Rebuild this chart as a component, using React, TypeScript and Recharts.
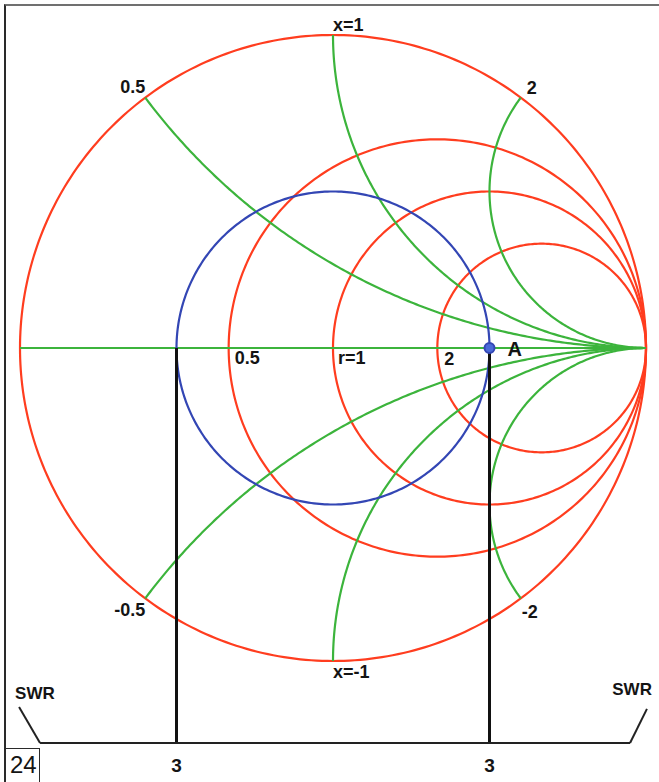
import React from 'react';
import { ComposedChart, Line, XAxis, YAxis, ReferenceLine, ReferenceDot } from 'recharts';

// ---- data ----
const resistanceValues = [0.5, 1, 2];
const resistanceLabels = ['0.5', 'r=1', '2'];
const reactanceValues = [0.5, 1, 2, -0.5, -1, -2];
const reactanceLabels = ['0.5', 'x=1', '2', '-0.5', 'x=-1', '-2'];
const swrValue = 3;
const swrTickLabels = ['3', '3'];
const pointA = { r: 3, x: 0, label: 'A' };
const scaleTitle = 'SWR';
const figureNumber = '24';

// ---- layout ----
const W = 659;
const H = 782;
const CX = 333;
const CY = 348;
const R = 313;
const X_DOMAIN = [-1.05, 1.04];
const Y_DOMAIN = [-1.35, 1.1];
const SCALE_Y = -1.262;
const SLANT = { lx0: -1.003, ly0: -1.147, lx1: -0.936, rx0: 0.949, rx1: 1.003, ry1: -1.153 };

const RED = '#ff3d1f';
const GREEN = '#3cb43c';
const BLUE = '#3346b4';
const FONT = '"Liberation Sans", Arial, sans-serif';

const gamma = (r: number, x: number) => {
  const d = (r + 1) * (r + 1) + x * x;
  return { x: (r * r + x * x - 1) / d, y: (2 * x) / d };
};

const resistanceCircle = (r: number) => {
  const c = r / (1 + r);
  const rad = 1 / (1 + r);
  const pts: { x: number; y: number }[] = [];
  const N = 360;
  for (let i = 0; i <= N; i++) {
    const t = (i / N) * Math.PI * 2;
    pts.push({ x: c + rad * Math.cos(t), y: rad * Math.sin(t) });
  }
  return pts;
};

const reactanceArc = (xv: number) => {
  const ax = Math.abs(xv);
  const sign = xv < 0 ? -1 : 1;
  const cy = 1 / ax;
  const rad = 1 / ax;
  const p = gamma(0, ax);
  const a0 = Math.atan2(p.y - cy, p.x - 1);
  let a1 = -Math.PI / 2;
  if (a1 < a0) a1 += Math.PI * 2;
  const pts: { x: number; y: number }[] = [];
  const N = 200;
  for (let i = 0; i <= N; i++) {
    const t = a0 + ((a1 - a0) * i) / N;
    pts.push({ x: 1 + rad * Math.cos(t), y: sign * (cy + rad * Math.sin(t)) });
  }
  return pts;
};

const swrGamma = (swrValue - 1) / (swrValue + 1);
const swrCircle = (() => {
  const pts: { x: number; y: number }[] = [];
  const N = 360;
  for (let i = 0; i <= N; i++) {
    const t = (i / N) * Math.PI * 2;
    pts.push({ x: swrGamma * Math.cos(t), y: swrGamma * Math.sin(t) });
  }
  return pts;
})();

const outerCircle = resistanceCircle(0);
const realAxis = [{ x: -1, y: 0 }, { x: 1, y: 0 }];
const pointAPos = gamma(pointA.r, pointA.x);

const textShape = (text: string, dx: number, dy: number, anchor: string, size = 18, weight = 'bold') =>
  (props: any) => (
    <text
      x={props.cx + dx}
      y={props.cy + dy}
      textAnchor={anchor}
      fontSize={size}
      fontWeight={weight}
      fontFamily={FONT}
      fill="#141414"
    >
      {text}
    </text>
  );

const reactanceLabelOffsets: Record<string, [number, number, string]> = {
  '0.5': [0, -5, 'end'],
  'x=1': [0, -4, 'start'],
  '2': [6, -4, 'start'],
  '-0.5': [0, 18, 'end'],
  'x=-1': [0, 17, 'start'],
  '-2': [1, 20, 'start'],
};
const resistanceLabelOffsets: [number, number][] = [
  [6, 16],
  [5, 16],
  [7, 17],
];

const margin = {
  left: CX + X_DOMAIN[0] * R,
  right: W - (CX + X_DOMAIN[1] * R),
  top: CY - Y_DOMAIN[1] * R,
  bottom: H - (CY - Y_DOMAIN[0] * R),
};

const LW = 2.2;

export default function App() {
  return (
    <div style={{ position: 'absolute', left: 0, top: 0, width: W, height: H, background: '#fff' }}>
      <ComposedChart width={W} height={H} margin={margin}>
        <XAxis type="number" dataKey="x" domain={X_DOMAIN} allowDataOverflow hide height={0} />
        <YAxis type="number" dataKey="y" domain={Y_DOMAIN} allowDataOverflow hide width={0} />

        <Line data={outerCircle} dataKey="y" stroke={RED} strokeWidth={LW} dot={false} isAnimationActive={false} />
        {resistanceValues.map((r) => (
          <Line key={'r' + r} data={resistanceCircle(r)} dataKey="y" stroke={RED} strokeWidth={LW} dot={false} isAnimationActive={false} />
        ))}
        <Line data={realAxis} dataKey="y" stroke={GREEN} strokeWidth={LW} dot={false} isAnimationActive={false} />
        {reactanceValues.map((xv) => (
          <Line key={'x' + xv} data={reactanceArc(xv)} dataKey="y" stroke={GREEN} strokeWidth={LW} dot={false} isAnimationActive={false} />
        ))}
        <Line data={swrCircle} dataKey="y" stroke={BLUE} strokeWidth={LW} dot={false} isAnimationActive={false} />

        {/* SWR projection lines */}
        {[-swrGamma, swrGamma].map((gx) => (
          <ReferenceLine
            key={'v' + gx}
            segment={[{ x: gx, y: 0 }, { x: gx, y: SCALE_Y }]}
            stroke="#111"
            strokeWidth={3}
            ifOverflow="visible"
          />
        ))}
        <ReferenceLine segment={[{ x: SLANT.lx1, y: SCALE_Y }, { x: SLANT.rx0, y: SCALE_Y }]} stroke="#222" strokeWidth={2} ifOverflow="visible" />
        <ReferenceLine segment={[{ x: SLANT.lx0, y: SLANT.ly0 }, { x: SLANT.lx1, y: SCALE_Y }]} stroke="#222" strokeWidth={2} ifOverflow="visible" />
        <ReferenceLine segment={[{ x: SLANT.rx0, y: SCALE_Y }, { x: SLANT.rx1, y: SLANT.ry1 }]} stroke="#222" strokeWidth={2} ifOverflow="visible" />

        <ReferenceDot x={pointAPos.x} y={pointAPos.y} r={5} fill="#4a6ad8" stroke={BLUE} strokeWidth={2} ifOverflow="visible" />
        <ReferenceDot x={pointAPos.x} y={pointAPos.y} r={0} ifOverflow="visible" shape={textShape(pointA.label, 18, 8, 'start', 20)} />

        {reactanceValues.map((xv, i) => {
          const p = gamma(0, xv);
          const [dx, dy, anchor] = reactanceLabelOffsets[reactanceLabels[i]];
          return (
            <ReferenceDot key={'xl' + xv} x={p.x} y={p.y} r={0} ifOverflow="visible" shape={textShape(reactanceLabels[i], dx, dy, anchor)} />
          );
        })}
        {resistanceValues.map((r, i) => {
          const p = gamma(r, 0);
          const [dx, dy] = resistanceLabelOffsets[i];
          return (
            <ReferenceDot key={'rl' + r} x={p.x} y={p.y} r={0} ifOverflow="visible" shape={textShape(resistanceLabels[i], dx, dy, 'start')} />
          );
        })}

        {[-swrGamma, swrGamma].map((gx, i) => (
          <ReferenceDot key={'sl' + gx} x={gx} y={SCALE_Y} r={0} ifOverflow="visible" shape={textShape(swrTickLabels[i], 0, 29, 'middle', 19)} />
        ))}
        <ReferenceDot x={SLANT.lx0} y={SLANT.ly0} r={0} ifOverflow="visible" shape={textShape(scaleTitle, -4, -8, 'start', 17)} />
        <ReferenceDot x={SLANT.rx1} y={SLANT.ry1} r={0} ifOverflow="visible" shape={textShape(scaleTitle, 5, -14, 'end', 17)} />
      </ComposedChart>

      <div
        style={{
          position: 'absolute',
          left: 4,
          top: 4,
          width: W - 4,
          height: H - 4,
          boxSizing: 'border-box',
          borderTop: '2px solid #707070',
          borderLeft: '2px solid #2a2a2a',
          pointerEvents: 'none',
        }}
      />
      <div
        style={{
          position: 'absolute',
          left: 4,
          top: 748,
          width: 36,
          height: 36,
          boxSizing: 'border-box',
          border: '1.5px solid #2a2a2a',
          fontFamily: '"Liberation Sans Narrow", "Liberation Sans", Arial, sans-serif',
          fontSize: 24,
          lineHeight: '32px',
          color: '#141414',
          paddingLeft: 5,
        }}
      >
        {figureNumber}
      </div>
    </div>
  );
}
